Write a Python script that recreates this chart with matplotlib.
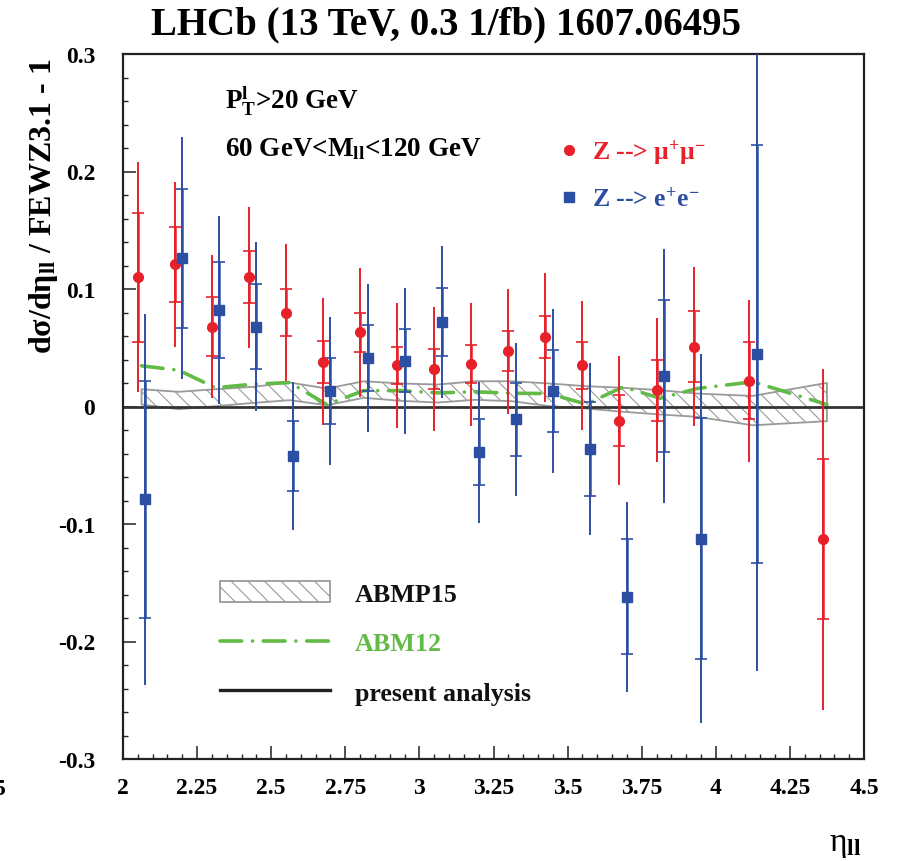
import matplotlib
matplotlib.use("Agg")
import matplotlib.pyplot as plt
from matplotlib.lines import Line2D
from matplotlib.patches import Patch
from matplotlib.ticker import MultipleLocator, FuncFormatter

# ---------------- data ----------------
eta_mu = [2.05, 2.175, 2.30, 2.425, 2.55, 2.675, 2.80, 2.925, 3.05, 3.175,
          3.30, 3.425, 3.55, 3.675, 3.80, 3.925, 4.1125, 4.3625]
val_mu = [0.110, 0.121, 0.068, 0.110, 0.080, 0.038, 0.063, 0.035, 0.032, 0.036,
          0.047, 0.059, 0.035, -0.012, 0.014, 0.051, 0.022, -0.113]
stat_mu = [0.055, 0.032, 0.025, 0.022, 0.020, 0.018, 0.017, 0.016, 0.017, 0.016,
           0.017, 0.018, 0.020, 0.022, 0.026, 0.030, 0.033, 0.068]
tot_mu = [0.098, 0.070, 0.061, 0.060, 0.058, 0.054, 0.055, 0.053, 0.053, 0.0525,
          0.053, 0.055, 0.055, 0.055, 0.061, 0.068, 0.069, 0.145]

eta_e = [2.075, 2.20, 2.325, 2.45, 2.575, 2.70, 2.825, 2.95, 3.075, 3.20,
         3.325, 3.45, 3.575, 3.70, 3.825, 3.95, 4.1375]
val_e = [-0.079, 0.126, 0.082, 0.068, -0.042, 0.013, 0.041, 0.039, 0.072, -0.039,
         -0.011, 0.013, -0.036, -0.162, 0.026, -0.1125, 0.0445]
stat_e = [0.101, 0.059, 0.041, 0.036, 0.030, 0.028, 0.028, 0.027, 0.029, 0.028,
          0.031, 0.035, 0.040, 0.049, 0.065, 0.1025, 0.178]
tot_e = [0.158, 0.103, 0.080, 0.072, 0.063, 0.063, 0.063, 0.062, 0.065, 0.060,
         0.065, 0.070, 0.073, 0.081, 0.108, 0.157, 0.270]

band_eta = [2.0625, 2.1875, 2.3125, 2.4375, 2.5625, 2.6875, 2.8125, 2.9375, 3.0625,
            3.1875, 3.3125, 3.4375, 3.5625, 3.6875, 3.8125, 3.9375, 4.125, 4.375]
abmp15_hi = [0.0147, 0.0125, 0.0147, 0.0167, 0.0204, 0.0153, 0.0215, 0.0196, 0.0187,
             0.0215, 0.0215, 0.0196, 0.0173, 0.0159, 0.0139, 0.0110, 0.0090, 0.0201]
abmp15_lo = [0.0017, -0.0023, 0.0003, 0.0030, 0.0054, 0.0011, 0.0074, 0.0048, 0.0034,
             0.0057, 0.0045, 0.0003, -0.0017, -0.0045, -0.0068, -0.0088, -0.0160, -0.0125]
abm12 = [0.0346, 0.0309, 0.0159, 0.0190, 0.0204, 0.0017, 0.0135, 0.0135, 0.0116,
         0.0125, 0.0113, 0.0110, 0.0020, 0.0167, 0.0070, 0.0153, 0.0210, 0.0017]

# ---------------- style ----------------
plt.rcParams.update({
    "font.family": ["Liberation Serif", "DejaVu Serif"],
    "font.weight": "bold",
    "mathtext.fontset": "custom",
    "mathtext.rm": "Liberation Serif:bold",
    "mathtext.it": "Liberation Serif:italic:bold",
    "mathtext.bf": "Liberation Serif:bold",
    "axes.unicode_minus": False,
    "hatch.linewidth": 0.8,
})

RED = "#e8202a"
BLUE = "#2d4fa3"
GREEN = "#62bb46"
GRAY = "#9a9a9a"

W, H = 897, 862
fig = plt.figure(figsize=(W / 100, H / 100), dpi=100)
ax = fig.add_axes([123 / W, (H - 760) / H, 741 / W, 705 / H])

# theory band and line
ax.fill_between(band_eta, abmp15_lo, abmp15_hi, facecolor="none", edgecolor=GRAY,
                hatch="\\\\", lw=1.3, zorder=1)
ax.plot(band_eta, abm12, color=GREEN, lw=2.6, ls=(0, (6.0, 3.0, 0.001, 3.0)),
        dash_capstyle="round", zorder=2)
ax.axhline(0, color="#333333", lw=2.0, zorder=2)

# data
for eta, val, stat, tot, col, mk in [(eta_mu, val_mu, stat_mu, tot_mu, RED, "o"),
                                     (eta_e, val_e, stat_e, tot_e, BLUE, "s")]:
    ax.errorbar(eta, val, yerr=tot, fmt="none", ecolor=col, elinewidth=1.4,
                capsize=0, zorder=3)
    ax.errorbar(eta, val, yerr=stat, fmt="none", ecolor=col, elinewidth=1.8,
                capsize=4, capthick=1.2, zorder=3)
    ax.plot(eta, val, ls="none", marker=mk, ms=7 if mk == "o" else 6.5,
            color=col, zorder=4)

# axes
ax.set_xlim(2, 4.5)
ax.set_ylim(-0.3, 0.3)
ax.xaxis.set_major_locator(MultipleLocator(0.25))
ax.xaxis.set_minor_locator(MultipleLocator(0.05))
ax.yaxis.set_major_locator(MultipleLocator(0.1))
ax.yaxis.set_minor_locator(MultipleLocator(0.02))
fmt = FuncFormatter(lambda v, p: f"{round(v, 3) + 0.0:g}")
ax.xaxis.set_major_formatter(fmt)
ax.yaxis.set_major_formatter(fmt)
ax.tick_params(which="both", direction="in", top=False, right=False,
               labelsize=17, color="#222222")
ax.tick_params(which="major", length=9.5, width=1.1)
ax.tick_params(which="minor", length=3.8, width=1.0)
ax.tick_params(axis="y", pad=20)
ax.tick_params(axis="x", pad=13)
for s in ax.spines.values():
    s.set_linewidth(1.6)
    s.set_color("#222222")

# texts
fig.text(446 / W, 1 - 25 / H, "LHCb (13 TeV, 0.3 1/fb) 1607.06495",
         ha="center", va="center", fontsize=28, fontweight="bold")
fig.text(44 / W, 1 - 206 / H, r"dσ/dη$_{\mathbf{ll}}$ / FEWZ3.1 - 1",
         rotation=90, ha="center", va="center", fontsize=23, fontweight="bold")
fig.text(845 / W, 1 - 845 / H, r"η$_{\mathbf{ll}}$", ha="center", va="center",
         fontsize=24, fontweight="normal")
fig.text(6 / W, 1 - 790 / H, "5", ha="right", va="center", fontsize=17,
         fontweight="bold")

ax.text(0.138, 0.934, r"P$_{\mathbf{T}}^{\mathbf{l}}$>20 GeV", transform=ax.transAxes,
        ha="left", va="center", fontsize=19.5, fontweight="bold")
ax.text(0.138, 0.866, r"60 GeV<M$_{\mathbf{ll}}$<120 GeV", transform=ax.transAxes,
        ha="left", va="center", fontsize=19.5, fontweight="bold")

# legends
h1 = [Line2D([], [], ls="none", marker="o", ms=7, color=RED),
      Line2D([], [], ls="none", marker="s", ms=6.5, color=BLUE)]
l1 = [r"Z --> μ$^{\mathbf{+}}$μ$^{\mathbf{-}}$", r"Z --> e$^{\mathbf{+}}$e$^{\mathbf{-}}$"]
leg1 = ax.legend(h1, l1, loc="upper left", bbox_to_anchor=(0.585, 0.882),
                 frameon=False, handlelength=0.95, handletextpad=0.42,
                 labelspacing=0.8, borderpad=0, borderaxespad=0,
                 labelcolor=[RED, BLUE], prop={"size": 18.5, "weight": "bold"})
ax.add_artist(leg1)

h2 = [Patch(facecolor="none", edgecolor=GRAY, hatch="\\\\", lw=1.3),
      Line2D([], [], color=GREEN, lw=2.6, ls=(0, (6.0, 3.0, 0.001, 3.0)),
             dash_capstyle="round"),
      Line2D([], [], color="#222222", lw=2.4)]
l2 = ["ABMP15", "ABM12", "present analysis"]
ax.legend(h2, l2, loc="upper left", bbox_to_anchor=(0.131, 0.252), frameon=False,
          handlelength=4.23, handleheight=0.85, handletextpad=0.96,
          labelspacing=0.97, borderpad=0, borderaxespad=0,
          labelcolor=["#111111", GREEN, "#111111"],
          prop={"size": 18.7, "weight": "bold"})

fig.savefig("out.png", dpi=100)
